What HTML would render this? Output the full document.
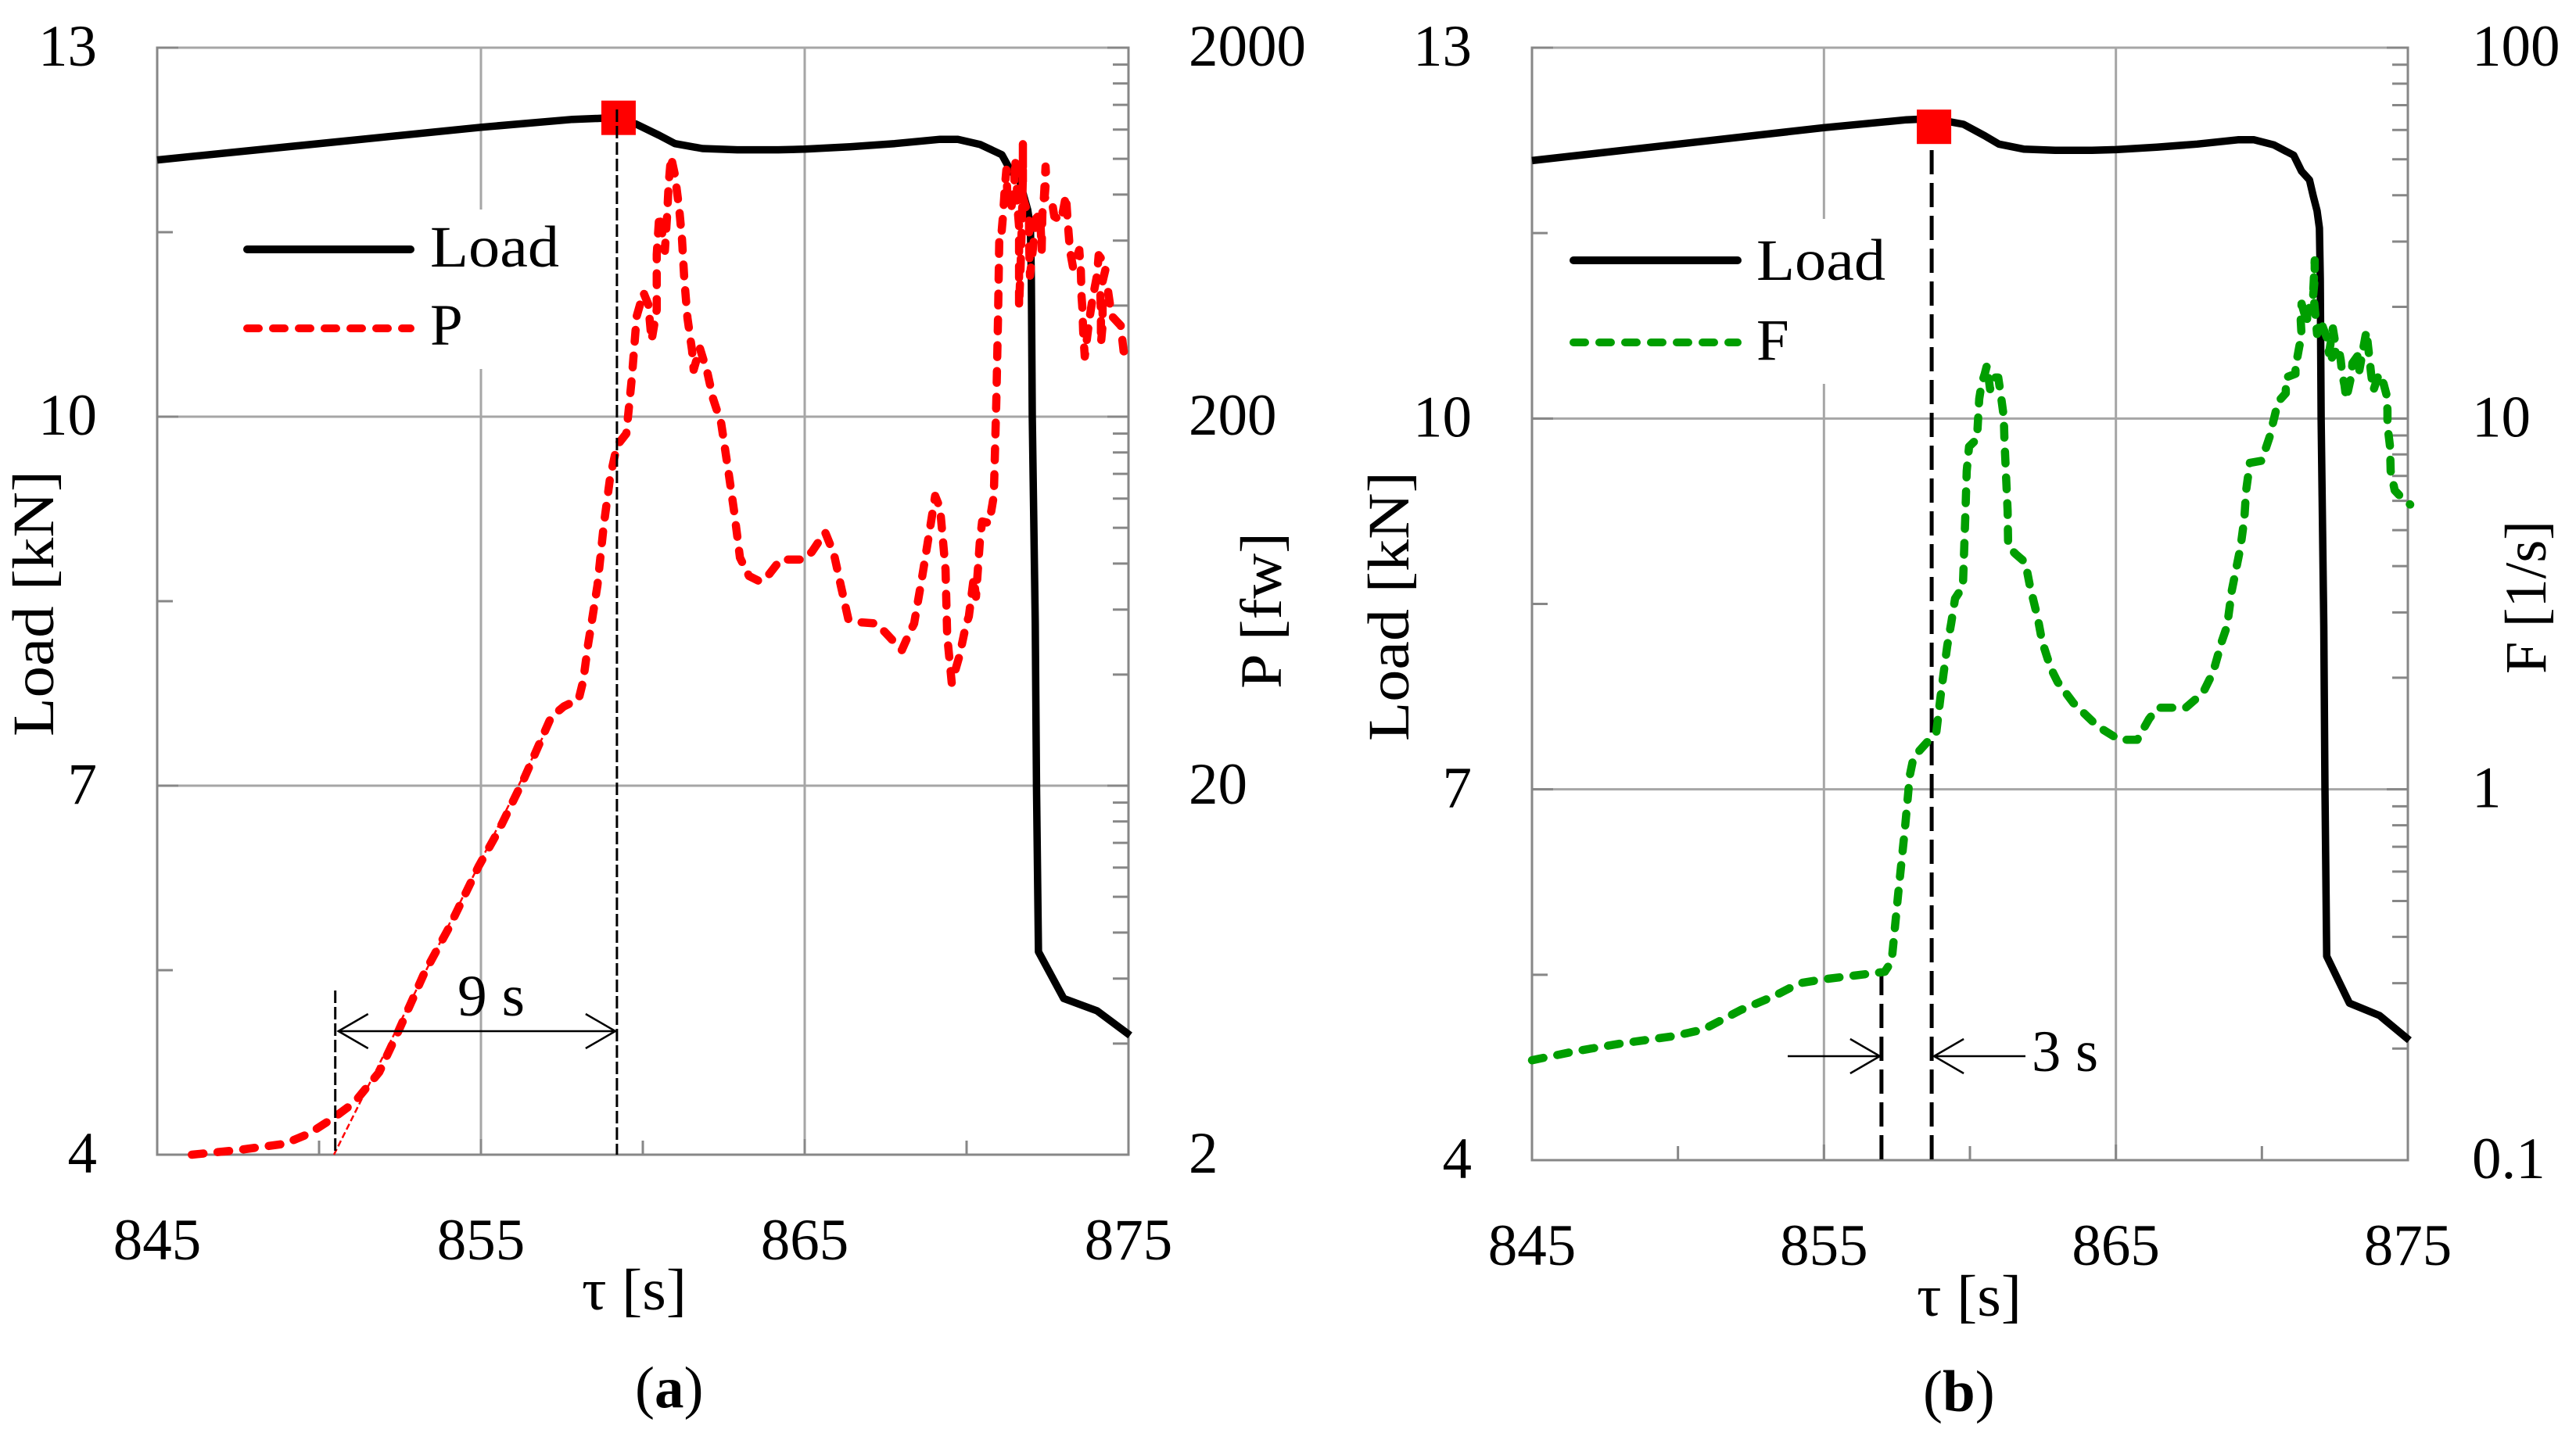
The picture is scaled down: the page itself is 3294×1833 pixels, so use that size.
<!DOCTYPE html>
<html lang="en">
<head>
<meta charset="utf-8">
<title>Load, P and F versus time</title>
<style>
html,body{margin:0;padding:0;background:#fff;}
svg{display:block;}
text{font-family:"Liberation Serif",serif;font-size:75px;fill:#000;}
</style>
</head>
<body>
<svg id="chart" xmlns="http://www.w3.org/2000/svg" width="3294" height="1833" viewBox="0 0 3294 1833">
<rect x="0" y="0" width="3294" height="1833" fill="#fff"/>
<g id="panel-a"></g>
<g id="panel-b"></g>
<g>
  <text x="550" y="341" textLength="165" lengthAdjust="spacingAndGlyphs">Load</text>
  <text x="550" y="441">P</text>
  <text transform="translate(68,942) rotate(-90)" textLength="340" lengthAdjust="spacingAndGlyphs">Load [kN]</text>
  <text transform="translate(1638,881) rotate(-90)" textLength="200" lengthAdjust="spacingAndGlyphs">P [fw]</text>
  <text x="744" y="1675" textLength="134" lengthAdjust="spacingAndGlyphs">τ [s]</text>
  <text x="585" y="1299" textLength="86" lengthAdjust="spacingAndGlyphs">9 s</text>
  <text x="812" y="1800">(<tspan font-weight="bold">a</tspan>)</text>
</g>
<g>
  <text x="2246" y="358" textLength="165" lengthAdjust="spacingAndGlyphs">Load</text>
  <text x="2246" y="460">F</text>
  <text transform="translate(1801,948) rotate(-90)" textLength="345" lengthAdjust="spacingAndGlyphs">Load [kN]</text>
  <text transform="translate(3255,862) rotate(-90)" textLength="196" lengthAdjust="spacingAndGlyphs">F [1/s]</text>
  <text x="2451" y="1683" textLength="134" lengthAdjust="spacingAndGlyphs">τ [s]</text>
  <text x="2598" y="1370" textLength="85" lengthAdjust="spacingAndGlyphs">3 s</text>
  <text x="2459" y="1805">(<tspan font-weight="bold">b</tspan>)</text>
</g>
</svg>
<script>
// ---------- chart data ----------
const xTicks = [845, 855, 865, 875];
const xMinorTicks = [850, 860, 870];
const loadTicks = [13, 10, 7, 4];
const loadMinorTicks = [11.5, 8.5, 5.5];
const pTicks = [2000, 200, 20, 2];
const pTickLabels = ['2000', '200', '20', '2'];
const fTicks = [100, 10, 1, 0.1];
const fTickLabels = ['100', '10', '1', '0.1'];
const logMinorFactors = [2, 3, 4, 5, 6, 7, 8, 9];

const loadTau = [845, 855, 857.83, 858.74, 859.78, 860.51, 860.99, 861.84, 862.92, 864.18, 865, 866.4, 867.78, 869.18, 869.73, 870.41, 871.09, 871.36, 871.63, 871.76, 871.89, 871.97, 872.0, 872.03, 872.12, 872.16, 872.22, 873.0, 874.03, 875.05];
const loadValues = [12.087, 12.353, 12.417, 12.426, 12.38, 12.287, 12.22, 12.18, 12.17, 12.17, 12.175, 12.195, 12.22, 12.255, 12.255, 12.214, 12.13, 12.0, 11.93, 11.8, 11.68, 11.54, 11.13, 10.0, 8.32, 7.0, 5.65, 5.27, 5.17, 4.97];

const pTau = [846.07, 847.54, 848.93, 849.69, 850.46, 851.09, 851.86, 852.46, 853.24, 854.01, 854.93, 855.56, 856.33, 856.79, 857.17, 857.56, 858.02, 858.16, 858.31, 858.41, 858.6, 858.79, 858.99, 859.2, 859.49, 859.66, 859.81, 860.02, 860.17, 860.27, 860.43, 860.43, 860.46, 860.51, 860.68, 860.75, 860.8, 860.87, 860.99, 861.13, 861.21, 861.28, 861.38, 861.52, 861.57, 861.76, 862.0, 862.17, 862.42, 862.66, 862.83, 863.0, 863.28, 863.62, 863.91, 864.25, 864.95, 865.22, 865.63, 865.9, 866.11, 866.35, 866.67, 867.22, 867.49, 868.0, 868.24, 868.38, 868.62, 868.89, 869.03, 869.18, 869.35, 869.4, 869.54, 869.78, 869.98, 870.07, 870.22, 870.29, 870.41, 870.48, 870.7, 870.84, 870.92, 870.97, 871.01, 871.06, 871.13, 871.18, 871.23, 871.26, 871.38, 871.47, 871.5, 871.55, 871.57, 871.62, 871.62, 871.62, 871.67, 871.71, 871.74, 871.74, 871.74, 871.84, 871.93, 871.93, 871.96, 872.15, 872.27, 872.32, 872.34, 872.39, 872.44, 872.46, 872.41, 872.63, 872.71, 872.92, 873.07, 873.12, 873.16, 873.19, 873.29, 873.48, 873.53, 873.55, 873.58, 873.6, 873.65, 873.79, 873.89, 874.03, 874.08, 874.32, 874.13, 874.15, 874.15, 874.2, 874.2, 874.37, 874.44, 874.52, 874.76, 874.85, 875.1];
const pValues = [2.0, 2.06, 2.14, 2.28, 2.52, 2.77, 3.35, 4.34, 6.18, 8.24, 12.1, 15.2, 20.9, 25.8, 30.7, 32.8, 34.3, 38.5, 48.3, 54.8, 69.9, 101, 137, 167, 180, 254, 374, 434, 403, 322, 390, 550, 605, 705, 563, 705, 857, 1012, 905, 722, 605, 473, 370, 303, 268, 307, 262, 224, 192, 139, 109, 83, 74, 71.5, 75, 82, 82, 86, 97.3, 85, 70, 56.4, 55.5, 55, 52, 46.6, 52, 55, 73, 102, 122, 113, 77, 51, 38, 45, 54.5, 57.5, 73, 65, 92, 104, 103, 122, 224, 370, 605, 602, 711, 836, 934, 793, 733, 836, 1000, 857, 742, 656, 540, 397, 513, 683, 910, 1105, 786, 733, 690, 596, 482, 690, 708, 566, 711, 785, 953, 889, 785, 771, 698, 679, 796, 679, 615, 566, 507, 566, 497, 424, 390, 343, 291, 366, 417, 483, 548, 514, 438, 372, 316, 353, 417, 438, 397, 372, 353, 301, 290];

const fTau = [845, 846.47, 848.0, 849.85, 850.87, 852.15, 853.25, 854.16, 854.94, 857.08, 857.32, 857.54, 857.78, 857.94, 858.07, 858.85, 859.01, 859.22, 859.36, 859.49, 859.76, 859.84, 859.89, 859.97, 860.24, 860.32, 860.4, 860.51, 860.58, 860.69, 860.78, 860.97, 861.05, 861.16, 861.18, 861.23, 861.29, 861.31, 861.58, 861.9, 862.06, 862.33, 862.47, 862.76, 863.0, 863.54, 864.37, 865.12, 865.73, 866.14, 866.43, 867.39, 867.98, 868.33, 868.63, 868.81, 868.97, 869.27, 869.4, 869.46, 869.59, 869.99, 870.26, 870.48, 870.56, 870.82, 870.82, 871.15, 871.15, 871.2, 871.28, 871.36, 871.33, 871.36, 871.55, 871.55, 871.73, 871.81, 871.81, 871.76, 871.89, 872.0, 872.14, 872.24, 872.3, 872.43, 872.49, 872.4, 872.62, 872.7, 872.75, 872.83, 872.89, 873.07, 873.1, 873.29, 873.34, 873.48, 873.58, 873.64, 873.69, 873.74, 873.82, 874.01, 874.17, 874.28, 874.3, 874.3, 874.39, 874.41, 874.55, 874.76, 875.08];
const fValues = [0.186, 0.1965, 0.206, 0.216, 0.225, 0.254, 0.276, 0.30, 0.307, 0.322, 0.344, 0.521, 0.792, 1.09, 1.22, 1.43, 1.82, 2.43, 2.81, 3.27, 3.52, 5.37, 7.22, 8.4, 8.81, 11.3, 12.4, 13.2, 13.9, 12, 12.9, 12.9, 11.7, 10.1, 8.81, 7.22, 5.64, 4.51, 4.3, 4.09, 3.52, 2.88, 2.51, 2.13, 1.95, 1.71, 1.48, 1.36, 1.36, 1.55, 1.66, 1.66, 1.82, 2.07, 2.51, 2.76, 3.44, 4.51, 5.37, 6.4, 7.59, 7.69, 8.89, 10.5, 11.1, 11.7, 12.9, 13.2, 14.3, 14.4, 15.6, 16.7, 18.4, 20.4, 18.1, 19.5, 20.4, 23.8, 26.7, 22, 16.9, 18.4, 17.2, 16.4, 15, 17.5, 16.4, 14.6, 15.6, 14.4, 13.2, 12.3, 11.3, 13.1, 14.1, 14.8, 13.5, 15.6, 17.2, 15.6, 14.4, 13.2, 11.9, 13.2, 12.4, 11.5, 10.5, 9.6, 8.4, 7.22, 6.4, 6.15, 5.86];

const tangentTau = [850.46, 857.08];
const tangentP = [2.0, 29];
const peakMarkerA = [859.25, 12.43];
const peakMarkerB = [858.77, 12.36];
const onsetTauA = 850.5;
const peakTauA = 859.2;
const onsetTauB = 856.97;
const peakTauB = 858.69;

// ---------- axis functions ----------
const NS = 'http://www.w3.org/2000/svg';
const A = {l: 201, r: 1443, t: 61, b: 1477};
const B = {l: 1959, r: 3079, t: 61, b: 1484};
const linX = (box, t) => box.l + (t - 845) / 30 * (box.r - box.l);
const loadY = (box, v) => box.t + (13 - v) / 9 * (box.b - box.t);
const logY = (box, v, top, decades) => box.t + (Math.log10(top) - Math.log10(v)) / decades * (box.b - box.t);
const xA = t => linX(A, t);
const xB = t => linX(B, t);
const yPa = v => logY(A, v, 2000, 3);
const yFb = v => logY(B, v, 100, 3);
const pathFrom = (xs, ys, fx, fy) => xs.map((x, i) => (i ? 'L' : 'M') + fx(x).toFixed(1) + ' ' + fy(ys[i]).toFixed(1)).join(' ');

function svgEl(parent, tag) {
  const el = document.createElementNS(NS, tag);
  parent.appendChild(el);
  return el;
}
function setLine(el, x1, y1, x2, y2, color, width, dash) {
  el.setAttribute('x1', x1);
  el.setAttribute('y1', y1);
  el.setAttribute('x2', x2);
  el.setAttribute('y2', y2);
  el.setAttribute('stroke', color);
  el.setAttribute('stroke-width', width);
  if (dash) el.setAttribute('stroke-dasharray', dash);
}
function setLabel(el, x, y, anchor, str) {
  el.setAttribute('x', x);
  el.setAttribute('y', y);
  el.setAttribute('text-anchor', anchor);
  el.textContent = str;
}
function setCurve(el, d, color, width, dash) {
  el.setAttribute('d', d);
  el.setAttribute('fill', 'none');
  el.setAttribute('stroke', color);
  el.setAttribute('stroke-width', width);
  el.setAttribute('stroke-linejoin', 'round');
  if (dash) {
    el.setAttribute('stroke-dasharray', dash);
    el.setAttribute('stroke-linecap', 'round');
  }
}

const GRID = '#a6a6a6';
const AXIS = '#878787';

function drawFrame(g, box, fx, rightTicks, rightLabels, rightFn, leftLabelX, rightLabelX, xLabelY, labelDy, legendBox) {
  // grid
  xTicks.slice(1, 3).forEach(t => {
    const grid = svgEl(g, 'line');
    
    
    setLine(grid, fx(t), box.t, fx(t), box.b, GRID, 3);
  });
  loadTicks.slice(0, 3).forEach(v => {
    const grid = svgEl(g, 'line');
    
    
    setLine(grid, box.l, loadY(box, v), box.r, loadY(box, v), GRID, 3);
  });
  // legend background interrupts the grid
  const bg = svgEl(g, 'rect');
  
  
  bg.setAttribute('x', legendBox[0]);
  bg.setAttribute('y', legendBox[1]);
  bg.setAttribute('width', legendBox[2]);
  bg.setAttribute('height', legendBox[3]);
  bg.setAttribute('fill', '#fff');
  // axes
  const leftAxis = svgEl(g, 'line');
  
  
  setLine(leftAxis, box.l, box.t - 1.5, box.l, box.b + 1.5, AXIS, 3);
  const rightAxis = svgEl(g, 'line');
  
  
  setLine(rightAxis, box.r, box.t - 1.5, box.r, box.b + 1.5, AXIS, 3);
  const bottomAxis = svgEl(g, 'line');
  
  
  setLine(bottomAxis, box.l, box.b, box.r, box.b, AXIS, 3);
  // left ticks + labels
  loadTicks.forEach(v => {
    const tick = svgEl(g, 'line');
    
    
    setLine(tick, box.l, loadY(box, v), box.l + 27, loadY(box, v), AXIS, 3);
    const lab = svgEl(g, 'text');
    
    
    setLabel(lab, leftLabelX, loadY(box, v) + labelDy, 'end', String(v));
  });
  loadMinorTicks.forEach(v => {
    const tick = svgEl(g, 'line');
    
    
    setLine(tick, box.l, loadY(box, v), box.l + 20, loadY(box, v), AXIS, 3);
  });
  // right ticks + labels
  rightTicks.forEach((v, i) => {
    const tick = svgEl(g, 'line');
    
    
    setLine(tick, box.r - 27, rightFn(v), box.r, rightFn(v), AXIS, 3);
    const lab = svgEl(g, 'text');
    
    
    setLabel(lab, rightLabelX, rightFn(v) + labelDy, 'start', rightLabels[i]);
    if (i < rightTicks.length - 1) {
      logMinorFactors.forEach(f => {
        const minor = svgEl(g, 'line');
        
        
        const y = rightFn(rightTicks[i + 1] * f);
        setLine(minor, box.r - 20, y, box.r, y, AXIS, 3);
      });
    }
  });
  // x ticks + labels
  xTicks.forEach(t => {
    const tick = svgEl(g, 'line');
    
    
    setLine(tick, fx(t), box.b - 20, fx(t), box.b, AXIS, 3);
    const lab = svgEl(g, 'text');
    
    
    setLabel(lab, fx(t), xLabelY, 'middle', String(t));
  });
  xMinorTicks.forEach(t => {
    const tick = svgEl(g, 'line');
    
    
    setLine(tick, fx(t), box.b - 18, fx(t), box.b, AXIS, 3);
  });
}

function drawArrow(g, x1, x2, y, w) {
  const dir = x2 > x1 ? 1 : -1;
  const p = svgEl(g, 'path');
  
  
  p.setAttribute('d', `M${x1} ${y} L${x2} ${y} M${x2 - dir * 38} ${y - 22} L${x2} ${y} L${x2 - dir * 38} ${y + 22}`);
  p.setAttribute('fill', 'none');
  p.setAttribute('stroke', '#000');
  p.setAttribute('stroke-width', w);
}

const DASH = '15 18';

// ---------- panel a ----------
const ga = document.getElementById('panel-a');
drawFrame(ga, A, xA, pTicks, pTickLabels, yPa, 124, 1520, 1611, 23, [250, 268, 480, 204]);

const legendLoadA = svgEl(ga, 'line');


setLine(legendLoadA, 316, 319, 525, 319, '#000', 10);
legendLoadA.setAttribute('stroke-linecap', 'round');
const legendP = svgEl(ga, 'line');


setLine(legendP, 316, 420, 525, 420, '#ff0000', 10, DASH);
legendP.setAttribute('stroke-linecap', 'round');

const loadA = svgEl(ga, 'path');


setCurve(loadA, pathFrom(loadTau, loadValues, xA, v => loadY(A, v)), '#000', 9.5);

const tangent = svgEl(ga, 'path');


setCurve(tangent, pathFrom(tangentTau, tangentP, xA, yPa), '#ff0000', 2.5);
tangent.setAttribute('stroke-dasharray', '8 4');

const pLine = svgEl(ga, 'path');


setCurve(pLine, pathFrom(pTau, pValues, xA, yPa), '#ff0000', 10.5, DASH);

const squareA = svgEl(ga, 'rect');


squareA.setAttribute('x', xA(peakMarkerA[0]) - 22);
squareA.setAttribute('y', loadY(A, peakMarkerA[1]) - 22);
squareA.setAttribute('width', 44);
squareA.setAttribute('height', 44);
squareA.setAttribute('fill', '#ff0000');

const peakLineA = svgEl(ga, 'line');


setLine(peakLineA, xA(peakTauA), 140, xA(peakTauA), A.b, '#000', 3, '16 5');
const onsetLineA = svgEl(ga, 'line');


setLine(onsetLineA, xA(onsetTauA), 1267, xA(onsetTauA), A.b, '#000', 3, '16 5');
drawArrow(ga, xA(onsetTauA) + 4, xA(peakTauA) - 2, 1319, 2.5);
const arrowBackA = svgEl(ga, 'path');


arrowBackA.setAttribute('d', `M${xA(onsetTauA) + 42} 1297 L${xA(onsetTauA) + 4} 1319 L${xA(onsetTauA) + 42} 1341`);
arrowBackA.setAttribute('fill', 'none');
arrowBackA.setAttribute('stroke', '#000');
arrowBackA.setAttribute('stroke-width', 2.5);

// ---------- panel b ----------
const gb = document.getElementById('panel-b');
drawFrame(gb, B, xB, fTicks, fTickLabels, yFb, 1882, 3161, 1618, 23, [2010, 280, 480, 211]);

const legendLoadB = svgEl(gb, 'line');


setLine(legendLoadB, 2012, 333, 2222, 333, '#000', 10);
legendLoadB.setAttribute('stroke-linecap', 'round');
const legendF = svgEl(gb, 'line');


setLine(legendF, 2012, 438, 2222, 438, '#009e00', 10, DASH);
legendF.setAttribute('stroke-linecap', 'round');

const peakLineB = svgEl(gb, 'line');


setLine(peakLineB, xB(peakTauB), 150, xB(peakTauB), B.b, '#000', 5, '31 11');
const onsetLineB = svgEl(gb, 'line');


setLine(onsetLineB, xB(onsetTauB), 1242, xB(onsetTauB), B.b, '#000', 5, '31 11');

const loadB = svgEl(gb, 'path');


setCurve(loadB, pathFrom(loadTau, loadValues, xB, v => loadY(B, v)), '#000', 9.5);

const fLine = svgEl(gb, 'path');


setCurve(fLine, pathFrom(fTau, fValues, xB, yFb), '#009e00', 10.5, DASH);

const squareB = svgEl(gb, 'rect');


squareB.setAttribute('x', xB(peakMarkerB[0]) - 22);
squareB.setAttribute('y', loadY(B, peakMarkerB[1]) - 22);
squareB.setAttribute('width', 44);
squareB.setAttribute('height', 44);
squareB.setAttribute('fill', '#ff0000');

drawArrow(gb, 2286, xB(onsetTauB) - 2, 1351, 2.5);
drawArrow(gb, 2590, xB(peakTauB) + 3, 1351, 2.5);
</script>
</body>
</html>
